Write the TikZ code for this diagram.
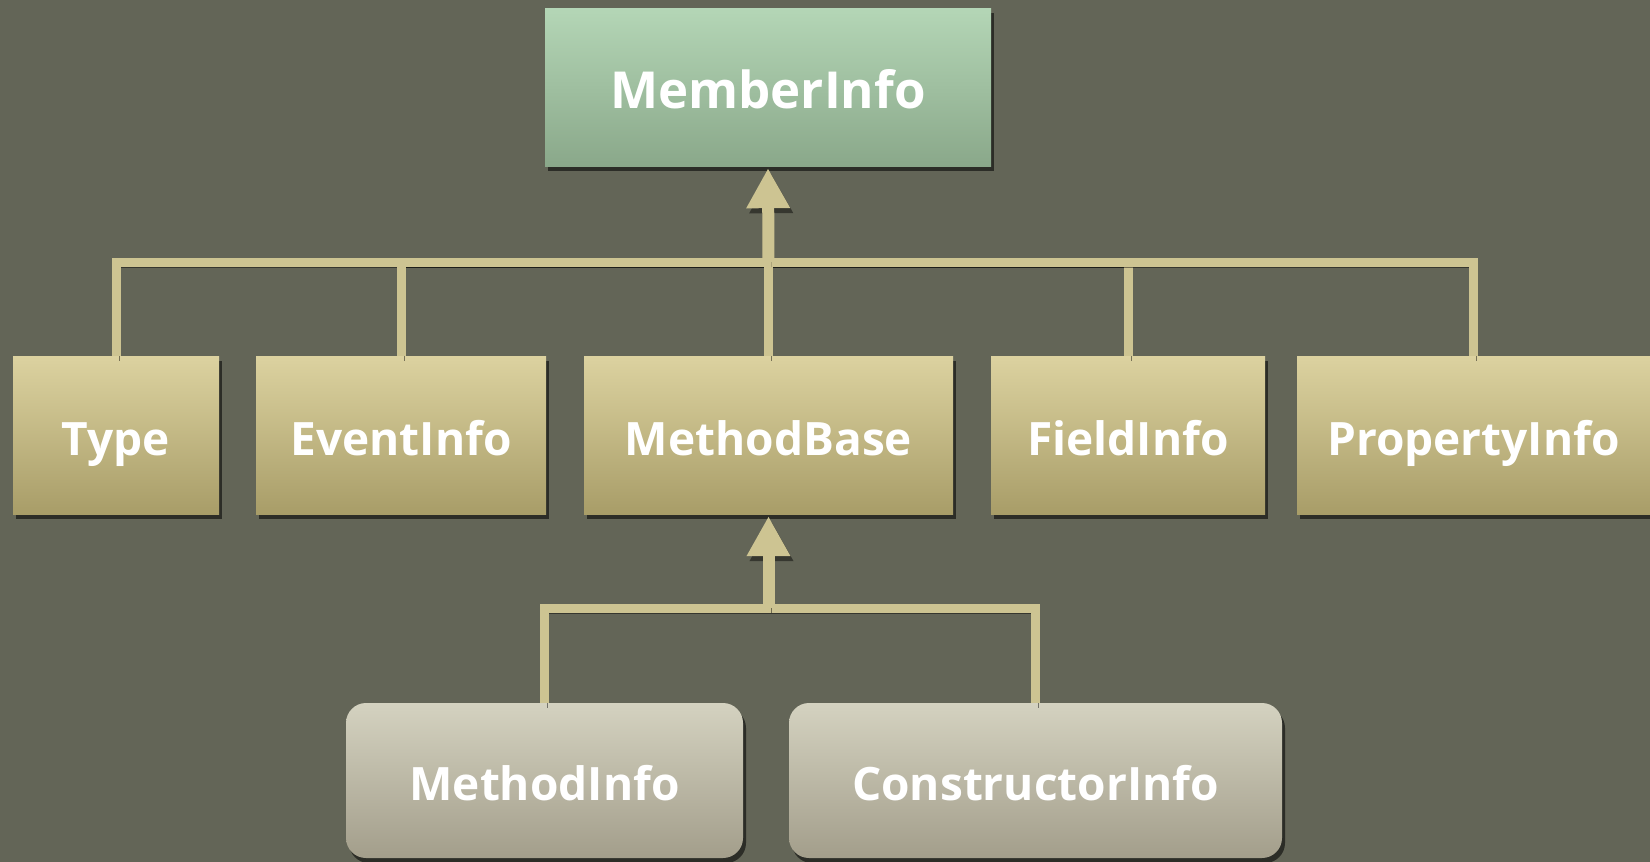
\documentclass[tikz,border=0pt]{standalone}
\usepackage{fontspec}
\setmainfont{Open Sans}
\usetikzlibrary{arrows.meta,shadows}
\definecolor{bg}{RGB}{99,101,87}
\definecolor{conn}{RGB}{205,196,146}
\definecolor{greentop}{RGB}{180,214,182}
\definecolor{greenbot}{RGB}{138,168,138}
\definecolor{tantop}{RGB}{220,210,160}
\definecolor{tanbot}{RGB}{168,157,104}
\definecolor{graytop}{RGB}{212,210,192}
\definecolor{graybot}{RGB}{163,158,139}
\tikzset{
  boxbase/.style={inner sep=0pt, text=white, font=\bfseries\fontsize{46}{54}\selectfont,
    text height=40pt, text depth=0pt,
    drop shadow={shadow xshift=3pt, shadow yshift=-5pt, opacity=0.55, fill=black}},
  greenbox/.style={boxbase, top color=greentop, bottom color=greenbot,
    font=\bfseries\fontsize{51}{60}\selectfont, text height=42pt},
  tanbox/.style={boxbase, top color=tantop, bottom color=tanbot},
  graybox/.style={boxbase, top color=graytop, bottom color=graybot, rounded corners=20pt},
  connline/.style={draw=conn, line width=9pt, line join=miter,
    preaction={draw=black, opacity=0.45, transform canvas={xshift=3pt,yshift=-5pt}}},
  arrowline/.style={connline, line width=12pt, -{Triangle[width=41pt,length=40pt]}, shorten >=2pt}
}
\begin{document}
\begin{tikzpicture}[x=1pt,y=-1pt]
\fill[bg] (0,0) rectangle (1650,862);
\useasboundingbox (0,0) rectangle (1650,862);
% nodes
\node[greenbox, minimum width=446pt, minimum height=158pt] (member) at (768,87) {MemberInfo};
\node[tanbox, minimum width=206pt, minimum height=158pt] (type) at (116,435) {Type};
\node[tanbox, minimum width=290pt, minimum height=158pt] (event) at (401,435) {EventInfo};
\node[tanbox, minimum width=369pt, minimum height=158pt] (mbase) at (768.5,435) {MethodBase};
\node[tanbox, minimum width=274pt, minimum height=158pt] (field) at (1128,435) {FieldInfo};
\node[tanbox, minimum width=353pt, minimum height=158pt] (prop) at (1473.5,435) {PropertyInfo};
\node[graybox, minimum width=397pt, minimum height=155pt] (minfo) at (544.5,780.5) {MethodInfo};
\node[graybox, minimum width=493pt, minimum height=155pt] (cinfo) at (1035.5,780.5) {ConstructorInfo};
% junctions
\coordinate (j1) at (768.5,262);
\coordinate (j2) at (768.5,608);
% connectors
\draw[connline] (type.north) |- (j1);
\draw[connline] (event.north) |- (j1);
\draw[connline] (field.north) |- (j1);
\draw[connline] (prop.north) |- (j1);
\draw[connline] (mbase.north) -- (j1);
\draw[arrowline] (j1) -- (member.south);
\draw[connline] (minfo.north) |- (j2);
\draw[connline] (cinfo.north) |- (j2);
\draw[arrowline] (j2) -- (mbase.south);
\end{tikzpicture}
\end{document}
